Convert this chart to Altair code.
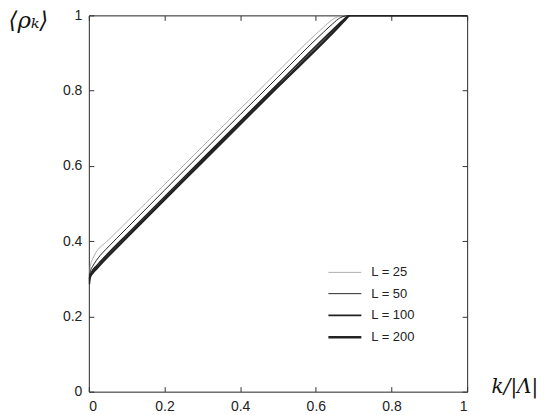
import altair as alt
import pandas as pd

series_names = ["L = 25", "L = 50", "L = 100", "L = 200"]

x_L25 = [0.0, 0.005, 0.01, 0.018, 0.03, 0.045, 0.1, 0.3, 0.5, 0.6, 0.62, 0.64, 0.66, 0.68, 1.0]
y_L25 = [0.30, 0.34, 0.352, 0.369, 0.384, 0.397, 0.451, 0.651, 0.851, 0.950, 0.968, 0.986, 0.997, 1.0, 1.0]

x_L50 = [0.0, 0.005, 0.01, 0.02, 0.03, 0.045, 0.1, 0.3, 0.5, 0.62, 0.645, 0.665, 0.69, 1.0]
y_L50 = [0.30, 0.323, 0.333, 0.349, 0.362, 0.378, 0.434, 0.636, 0.836, 0.955, 0.978, 0.994, 1.0, 1.0]

x_L100 = [0.0, 0.005, 0.01, 0.02, 0.03, 0.045, 0.1, 0.3, 0.5, 0.64, 0.66, 0.675, 0.69, 1.0]
y_L100 = [0.295, 0.313, 0.322, 0.334, 0.345, 0.361, 0.417, 0.618, 0.818, 0.957, 0.976, 0.990, 1.0, 1.0]

x_L200 = [0.0, 0.003, 0.01, 0.02, 0.03, 0.045, 0.1, 0.3, 0.5, 0.66, 0.675, 0.69, 1.0]
y_L200 = [0.285, 0.305, 0.316, 0.327, 0.338, 0.354, 0.41, 0.611, 0.811, 0.970, 0.986, 1.0, 1.0]

tick_vals = [0, 0.2, 0.4, 0.6, 0.8, 1]

rows = []
for name, xs, ys in zip(series_names,
                        [x_L25, x_L50, x_L100, x_L200],
                        [y_L25, y_L50, y_L100, y_L200]):
    for i, (a, b) in enumerate(zip(xs, ys)):
        rows.append({"L": name, "x": a, "y": b, "i": i})
df = pd.DataFrame(rows)

FONT = "Liberation Sans"
IN_TICK = alt.ExprRef("-5")

x_bottom = alt.X("x:Q", scale=alt.Scale(domain=[0, 1], nice=False, zero=False),
                 axis=alt.Axis(values=tick_vals, format="~g", title="k/|Λ|",
                               titleFont="DejaVu Serif", titleFontStyle="italic",
                               titleFontWeight="normal", titleFontSize=20,
                               titleAngle=0, titleAlign="left", titleBaseline="alphabetic",
                               titleX=403, titleY=1, titleColor="#111",
                               tickSize=IN_TICK, labelPadding=13, grid=False,
                               labelFont=FONT, labelFontSize=14, labelColor="#222",
                               domainColor="#333", tickColor="#333"))
y_left = alt.Y("y:Q", scale=alt.Scale(domain=[0, 1], nice=False, zero=False),
               axis=alt.Axis(values=tick_vals, format="~g", title="⟨ρₖ⟩",
                             titleFont="DejaVu Serif", titleFontStyle="italic",
                             titleFontWeight="normal", titleFontSize=23,
                             titleAngle=0, titleAlign="left", titleBaseline="top",
                             titleX=-81, titleY=-6, titleColor="#111",
                             tickSize=IN_TICK, labelPadding=12, grid=False,
                             labelFont=FONT, labelFontSize=14, labelColor="#222",
                             domainColor="#333", tickColor="#333"))

leg = alt.Legend(title=None, orient="none", legendX=244, legendY=246,
                 symbolType="M-1.5,0H1.5", symbolSize=484,
                 labelFont=FONT, labelFontSize=13, labelColor="#222",
                 labelOffset=14, rowPadding=2.3)
color = alt.Color("L:O", sort=series_names,
                  scale=alt.Scale(type="ordinal", domain=series_names,
                                  range=["#9a9a9a", "#111111", "#222222", "#222222"]),
                  legend=leg)
sw = alt.StrokeWidth("L:O", sort=series_names,
                     scale=alt.Scale(type="ordinal", domain=series_names,
                                     range=[0.8, 0.9, 1.7, 2.5]),
                     legend=leg)

lines = alt.Chart(df).mark_line(interpolate="monotone", clip=True).encode(
    x=x_bottom, y=y_left, color=color, strokeWidth=sw, order="i:Q", detail="L:N"
)

# top and right axes (ticks only)
frame = alt.Chart(df).mark_line(opacity=0).encode(
    x=alt.X("x:Q", scale=alt.Scale(domain=[0, 1], nice=False),
            axis=alt.Axis(orient="top", values=tick_vals, labels=False, title=None,
                          tickSize=IN_TICK, grid=False, domainColor="#333", tickColor="#333")),
    y=alt.Y("y:Q", scale=alt.Scale(domain=[0, 1], nice=False),
            axis=alt.Axis(orient="right", values=tick_vals, labels=False, title=None,
                          tickSize=IN_TICK, grid=False, domainColor="#333", tickColor="#333")),
    detail="L:N",
)

chart = alt.layer(frame, lines).resolve_axis(x="independent", y="independent").properties(
    width=379, height=377,
    autosize=alt.AutoSizeParams(type="none"),
    padding={"left": 81, "top": 7, "right": 70, "bottom": 22},
).configure_view(stroke=None).configure(background="white")

chart.save("out.html", embed_options={"renderer": "svg", "actions": False})
